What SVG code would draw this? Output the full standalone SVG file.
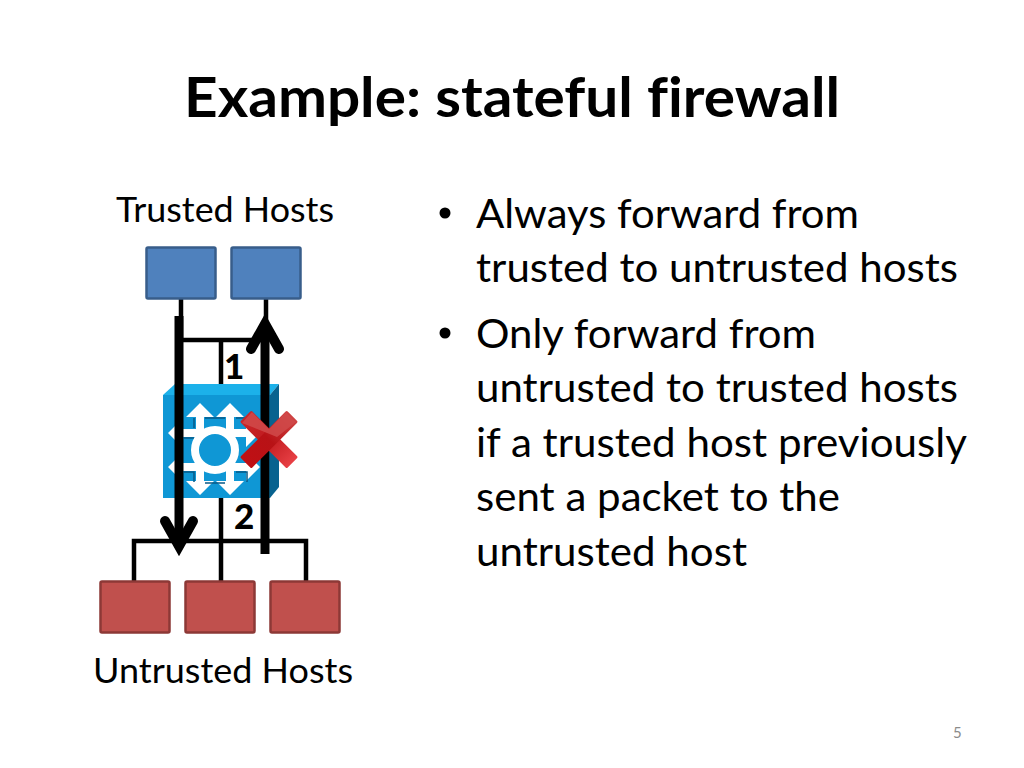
<svg xmlns="http://www.w3.org/2000/svg" width="1024" height="768" viewBox="0 0 1024 768">
<style>
text{font-family:Lato,"Liberation Sans",sans-serif;fill:#000;font-variant-ligatures:none}
.t{font-size:35px}
.b{font-size:41px}
.host{stroke-width:2.5}
.blue{fill:#4f81bd;stroke:#385d8a}
.red{fill:#c0504d;stroke:#8c3836}
.thin{fill:none;stroke:#000;stroke-width:4.5}
.thick{fill:none;stroke:#000;stroke-width:9}
.arm{fill:none;stroke:#000;stroke-width:10;stroke-linecap:round;stroke-linejoin:miter}
.num{font-size:35px;font-weight:900}
.sh{fill:none;stroke:#075a86;stroke-width:1.500}
</style>
<defs>
<linearGradient id="xa" x1="0" y1="0" x2="1" y2="0"><stop offset="0" stop-color="#c8262a"/><stop offset="0.5" stop-color="#c01a1e"/><stop offset="1" stop-color="#e84045"/></linearGradient>
<linearGradient id="xb" x1="0" y1="0" x2="1" y2="0"><stop offset="0" stop-color="#c00f14"/><stop offset="0.5" stop-color="#b81216"/><stop offset="1" stop-color="#cf4242"/></linearGradient>
<g id="au"><path d="M0 0L14 14H4V32H-4V14H-14Z" fill="#fff"/></g>
</defs>
<text id="title" x="512" y="117" text-anchor="middle" font-size="56" font-weight="bold" textLength="656" lengthAdjust="spacingAndGlyphs">Example: stateful firewall</text>
<text id="label-trusted" class="t" x="116" y="222" textLength="218" lengthAdjust="spacingAndGlyphs">Trusted Hosts</text>
<text id="label-untrusted" class="t" x="93" y="683" textLength="260" lengthAdjust="spacingAndGlyphs">Untrusted Hosts</text>
<g id="connectors-thin">
<path class="thin" d="M181 299V340H266M266 299V340M221 340V384"/>
<path class="thin" d="M221 498V581M134 581V541H306V581"/>
</g>
<g id="switch">
<path d="M163 395L175 384H279L270 395Z" fill="#1cb1ea"/>
<path d="M270 395L279 384V487L270 498Z" fill="#08628f"/>
<rect x="163" y="395" width="107" height="103" fill="#0f97d5"/>
<use href="#au" x="200" y="403"/>
<use href="#au" x="230" y="403"/>
<use href="#au" transform="translate(200,495) rotate(180)"/>
<use href="#au" transform="translate(230,495) rotate(180)"/>
<use href="#au" transform="translate(168,433) rotate(-90)"/>
<use href="#au" transform="translate(168,467) rotate(-90)"/>
<use href="#au" transform="translate(260,433) rotate(90)"/>
<use href="#au" transform="translate(260,467) rotate(90)"/>
<rect x="180" y="433" width="70" height="34" fill="#fff" opacity="0"/>
<path class="sh" d="M205 418H225M236 418H247V428M184 438H194M194 418V428M205 483L225 483M184 472H194V482M236 472H247V482"/>
<circle cx="215" cy="450" r="20" fill="#0f97d5" stroke="#fff" stroke-width="8"/>
</g>
<g id="host-t1"><rect class="host blue" x="146.500" y="247.500" width="69" height="51" rx="1.500"/></g>
<g id="host-t2"><rect class="host blue" x="231.500" y="247.500" width="69" height="51" rx="1.500"/></g>
<g id="host-u1"><rect class="host red" x="100.500" y="581.500" width="69" height="51" rx="1.500"/></g>
<g id="host-u2"><rect class="host red" x="185.500" y="581.500" width="69" height="51" rx="1.500"/></g>
<g id="host-u3"><rect class="host red" x="270.500" y="581.500" width="69" height="51" rx="1.500"/></g>
<g id="connectors">
<path class="thick" d="M179 316V545"/>
<path class="arm" d="M165 521L179 546L193 521"/>
<path class="thick" d="M265 554V326"/>
<path class="arm" d="M251 349L265 324L279 349"/>
</g>
<g id="cross">
<g transform="translate(269,439.500) rotate(45)">
<rect x="-33" y="-8" width="66" height="16" rx="1.500" fill="url(#xa)"/>
</g>
<g transform="translate(269,439.500) rotate(-45)">
<rect x="-33" y="-8" width="66" height="16" rx="1.500" fill="url(#xb)"/>
</g>
<path d="M242 423L252 412L269 429L286 412L296 422L277 437Z" fill="#d04a4a" opacity="0.85"/>
</g>
<text id="num1" class="num" x="224" y="379">1</text>
<text id="num2" class="num" x="234" y="529">2</text>
<g id="bullets">
<circle cx="445" cy="213" r="5.500"/>
<circle cx="445" cy="333" r="5.500"/>
<text class="b" x="476" y="228" textLength="383" lengthAdjust="spacingAndGlyphs">Always forward from</text>
<text class="b" x="476" y="282" textLength="482" lengthAdjust="spacingAndGlyphs">trusted to untrusted hosts</text>
<text class="b" x="476" y="348" textLength="340" lengthAdjust="spacingAndGlyphs">Only forward from</text>
<text class="b" x="476" y="402" textLength="482" lengthAdjust="spacingAndGlyphs">untrusted to trusted hosts</text>
<text class="b" x="476" y="457" textLength="491" lengthAdjust="spacingAndGlyphs">if a trusted host previously</text>
<text class="b" x="476" y="511" textLength="364" lengthAdjust="spacingAndGlyphs">sent a packet to the</text>
<text class="b" x="476" y="566" textLength="271" lengthAdjust="spacingAndGlyphs">untrusted host</text>
</g>
<text id="page" x="953" y="738" font-size="15" style="fill:#8b8b8b">5</text>
</svg>
